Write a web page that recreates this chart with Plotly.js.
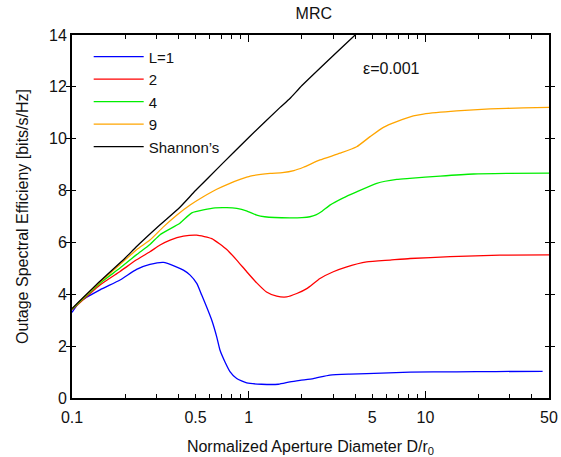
<!DOCTYPE html>
<html>
<head>
<meta charset="utf-8">
<script src="https://cdn.plot.ly/plotly-3.0.1.min.js"></script>
<style>html,body{margin:0;padding:0;background:#fff}#chart{width:561px;height:457px}</style>
</head>
<body>
<div id="chart"></div>
<script>
// Data
var seriesNames = ['L=1', '2', '4', '9', "Shannon\u2019s"];
var seriesColors = ['#0000ff', '#ff0000', '#00ee00', '#ffa500', '#000000'];

var xL1 = [0.1,0.111,0.144,0.187,0.232,0.276,0.329,0.383,0.427,0.466,0.508,0.542,0.578,0.618,0.659,0.688,0.734,0.783,0.855,0.974,1.18,1.47,1.71,1.95,2.32,2.88,3.74,4.65,8.18,15,25,46];
var yL1 = [3.3,3.72,4.17,4.55,4.96,5.15,5.23,5.08,4.93,4.74,4.42,3.97,3.51,3.0,2.36,1.84,1.39,1.02,0.75,0.58,0.53,0.53,0.62,0.68,0.75,0.88,0.92,0.94,1.0,1.01,1.02,1.03];

var xL2 = [0.1,0.144,0.187,0.232,0.276,0.315,0.359,0.427,0.508,0.618,0.751,0.855,0.974,1.11,1.26,1.44,1.64,1.87,2.13,2.53,3.01,3.59,4.65,6.31,8.18,13.8,26.4,50];
var yL2 = [3.4,4.36,4.88,5.33,5.64,5.90,6.09,6.24,6.28,6.15,5.73,5.32,4.87,4.44,4.09,3.93,3.90,4.03,4.22,4.61,4.87,5.06,5.25,5.32,5.38,5.45,5.51,5.52];

var xL4 = [0.1,0.144,0.187,0.232,0.276,0.315,0.408,0.476,0.645,0.751,0.856,0.97,1.11,1.23,1.71,2.0,2.22,2.4,2.6,2.88,3.43,4.08,5.3,6.88,8.15,12.1,18.7,28.8,50];
var yL4 = [3.42,4.43,5.01,5.53,5.92,6.30,6.74,7.14,7.33,7.34,7.31,7.22,7.05,6.99,6.95,6.96,6.99,7.06,7.2,7.44,7.72,7.95,8.28,8.43,8.47,8.56,8.64,8.66,8.67];

var xL9 = [0.1,0.144,0.187,0.232,0.276,0.329,0.391,0.466,0.553,0.659,0.783,0.893,1.02,1.32,1.55,1.8,2.04,2.53,3.29,4.08,4.86,5.78,6.88,8.54,9.73,15,23.2,35.8,50];
var yL9 = [3.44,4.47,5.15,5.72,6.09,6.60,7.05,7.44,7.76,8.05,8.28,8.43,8.56,8.66,8.69,8.77,8.90,9.18,9.44,9.69,10.08,10.44,10.66,10.88,10.95,11.07,11.15,11.19,11.21];

var xSh = [0.1,0.144,0.2,0.232,0.315,0.408,0.5,0.7,1,1.5,1.71,2,3,4,5];
var ySh = [3.45,4.5,5.4,5.84,6.68,7.36,8.0,9.0,10.05,11.2,11.55,12.05,13.2,14.0,14.6];

var xTickVals = [0.1, 0.5, 1, 5, 10, 50];
var xTickText = ['0.1', '0.5', '1', '5', '10', '50'];
var xMinorVals = [0.2,0.3,0.4,0.6,0.7,0.8,0.9,2,3,4,6,7,8,9,20,30,40];
var xMajorVals = [0.1, 1, 10];
var yTickVals = [0,2,4,6,8,10,12,14];

var xs = [xL1, xL2, xL4, xL9, xSh];
var ys = [yL1, yL2, yL4, yL9, ySh];

var traces = xs.map(function (x, i) {
  return {
    x: x, y: ys[i], type: 'scatter', mode: 'lines', name: seriesNames[i],
    line: {color: seriesColors[i], width: 1.3, shape: 'spline', smoothing: 0.5},
    cliponaxis: true
  };
});

var font = {family: 'Liberation Sans, Arial, Helvetica, sans-serif', color: '#111'};
var xr = [Math.log10(0.1), Math.log10(50)];
function f(s) { return Object.assign({size: s}, font); }

var layout = {
  width: 561, height: 457,
  margin: {l: 72, r: 12, t: 35, b: 59},
  paper_bgcolor: '#fff', plot_bgcolor: '#fff',
  font: f(16),
  showlegend: true,
  title: {text: 'MRC', xref: 'paper', x: 0.507, xanchor: 'center', yref: 'container', y: 0.971, yanchor: 'middle', font: f(16)},
  xaxis: {
    type: 'log', range: xr,
    tickmode: 'array', tickvals: xTickVals, ticktext: xTickText,
    ticks: 'inside', ticklen: 4, tickwidth: 1, tickcolor: '#000',
    ticklabelstandoff: 4,
    minor: {tickmode: 'array', tickvals: xMinorVals, ticks: 'inside', ticklen: 4, tickwidth: 1, tickcolor: '#000'},
    showline: true, linecolor: '#000', linewidth: 2, mirror: 'allticks',
    showgrid: false, zeroline: false,
    tickfont: f(16),
    title: {text: 'Normalized Aperture Diameter D/r<sub>0</sub>', standoff: 16, font: f(16)}
  },
  xaxis2: {
    type: 'log', range: xr, overlaying: 'x', side: 'bottom',
    tickmode: 'array', tickvals: xMajorVals, showticklabels: false,
    ticks: 'inside', ticklen: 7, tickwidth: 1, tickcolor: '#000',
    mirror: 'allticks', showline: false, showgrid: false, zeroline: false
  },
  yaxis: {
    range: [0, 14], tickmode: 'array', tickvals: yTickVals,
    ticks: 'inside', ticklen: 4, tickwidth: 1, tickcolor: '#000',
    showline: true, linecolor: '#000', linewidth: 2, mirror: 'allticks',
    showgrid: false, zeroline: false,
    tickfont: f(16),
    title: {text: 'Outage Spectral Efficieny [bits/s/Hz]', standoff: 16, font: f(16)}
  },
  legend: {
    x: 0.035, y: 0.985, xanchor: 'left', yanchor: 'top',
    bgcolor: 'rgba(0,0,0,0)', borderwidth: 0,
    font: f(15),
    itemwidth: 50, tracegroupgap: 0
  },
  annotations: [{
    text: '\u03b5=0.001', xref: 'paper', yref: 'paper', x: 0.669, y: 0.909,
    xanchor: 'center', yanchor: 'middle', showarrow: false,
    font: f(16)
  }]
};

// invisible helper trace so the long-major-tick axis is rendered
traces.push({x: [0.1], y: [0], xaxis: 'x2', yaxis: 'y', mode: 'markers', marker: {opacity: 0}, showlegend: false, hoverinfo: 'skip'});

Plotly.newPlot('chart', traces, layout, {displayModeBar: false, staticPlot: true});
</script>
</body>
</html>
